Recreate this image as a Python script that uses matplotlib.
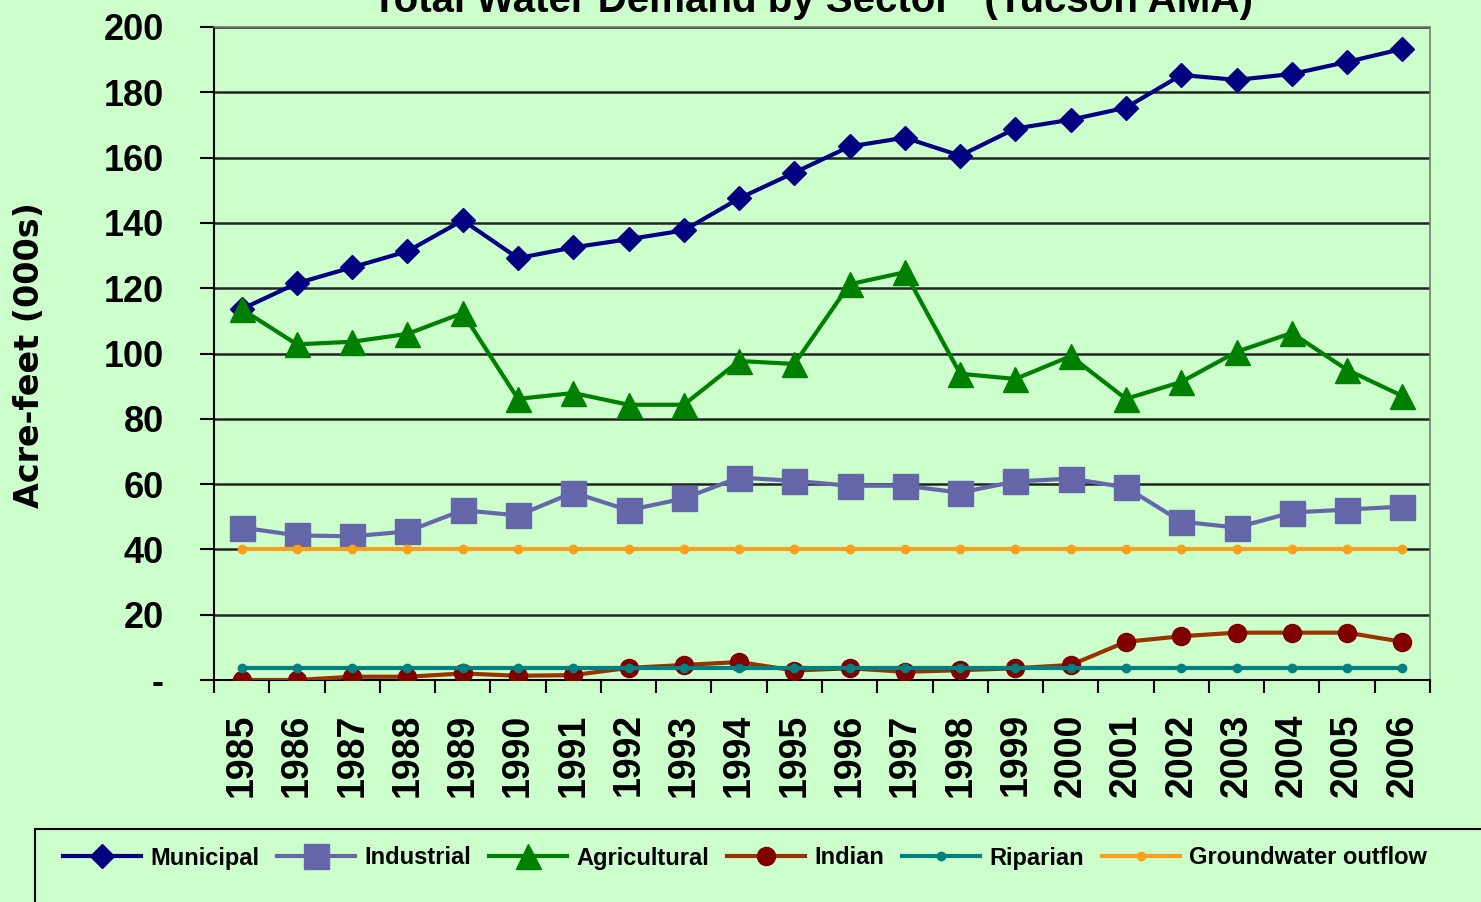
import numpy as np
import matplotlib.pyplot as plt
from matplotlib.patches import Rectangle
from matplotlib.ticker import FixedLocator

years = [str(y) for y in range(1985, 2007)]

municipal = [113.6, 121.5, 126.4, 131.3, 140.8, 129.2, 132.5, 135.0, 137.7, 147.5, 155.4,
             163.4, 166.1, 160.6, 168.9, 171.6, 175.3, 185.3, 183.8, 185.6, 189.3, 193.3]
industrial = [46.7, 44.3, 44.0, 45.5, 52.0, 50.4, 57.4, 52.0, 55.6, 62.0, 61.0,
              59.5, 59.5, 57.4, 60.8, 61.7, 59.0, 48.5, 46.7, 51.3, 52.2, 53.1]
agricultural = [113.6, 102.8, 103.6, 106.0, 112.4, 86.1, 87.9, 84.3, 84.3, 97.7, 96.8,
                121.2, 124.9, 93.8, 92.2, 99.2, 86.1, 91.3, 100.5, 106.3, 95.0, 87.0]
indian = [0.0, 0.0, 1.0, 1.0, 2.0, 1.3, 1.5, 3.7, 4.6, 5.5, 2.9,
          3.6, 2.5, 3.0, 3.6, 4.6, 11.7, 13.4, 14.5, 14.5, 14.5, 11.7]
riparian = [3.8] * 22
gw_outflow = [40.0] * 22

bg = '#CCFFCC'
fig = plt.figure(figsize=(14.81, 9.02), dpi=100, facecolor=bg)
ax = fig.add_axes([214 / 1481, 1 - 680 / 902, (1430 - 214) / 1481, (680 - 27) / 902])
ax.set_facecolor(bg)

x = np.arange(len(years))
ax.plot(x, municipal, color='#000080', lw=3, marker='D', ms=12, label='Municipal', zorder=3)
ax.plot(x, industrial, color='#6666AA', lw=3, marker='s', ms=18, label='Industrial', zorder=4)
ax.plot(x, agricultural, color='#008000', lw=3, marker='^', ms=18, label='Agricultural', zorder=5)
ax.plot(x, indian, color='#993300', lw=3, marker='o', ms=13, mfc='#800000', mec='#800000',
        label='Indian', zorder=6)
ax.plot(x, riparian, color='#008080', lw=3, marker='o', ms=6, label='Riparian', zorder=7)
ax.plot(x, gw_outflow, color='#F9A01B', lw=3, marker='o', ms=6, label='Groundwater outflow', zorder=8)

ax.set_xlim(-0.5, len(years) - 0.5)
ax.set_ylim(0, 200)
ax.set_yticks(np.arange(0, 201, 20))
ax.set_yticklabels(['-'] + [str(v) for v in range(20, 201, 20)])
ax.yaxis.grid(True, color='#222222', lw=1.8, zorder=1)
ax.set_axisbelow(True)

ax.set_xticks(x)
ax.set_xticklabels(years, rotation=90)
ax.xaxis.set_minor_locator(FixedLocator(np.arange(-0.5, len(years), 1)))
ax.tick_params(axis='x', which='major', length=0, pad=24)
ax.tick_params(axis='x', which='minor', length=9, width=1.5, direction='out')
ax.tick_params(axis='y', length=10, width=1.5, direction='out', pad=26)

for lab in ax.get_xticklabels() + ax.get_yticklabels():
    lab.set_fontfamily('Liberation Sans')
    lab.set_fontweight('bold')
for lab in ax.get_xticklabels():
    lab.set_fontsize(27)
for lab in ax.get_yticklabels():
    lab.set_fontsize(26)

for s in ['top', 'right']:
    ax.spines[s].set_color('#777777')
    ax.spines[s].set_linewidth(1.2)
for s in ['left', 'bottom']:
    ax.spines[s].set_color('black')
    ax.spines[s].set_linewidth(1.5)

fig.text(30 / 1481, 1 - 355 / 902, 'Acre-feet (000s)', rotation=90, ha='center', va='center',
         fontsize=24, fontweight='bold', family='DejaVu Sans')

fig.text(812 / 1481, 1 - 12 / 902, 'Total Water Demand by Sector   (Tucson AMA)',
         ha='center', va='baseline', fontsize=29, fontweight='bold', family='Liberation Sans')

fig.add_artist(Rectangle((35 / 1481, -0.05), 1.0, 0.05 + (1 - 829 / 902),
                         transform=fig.transFigure, fill=False, edgecolor='black', lw=1.5))
handles, labels = ax.get_legend_handles_labels()
fig.legend(handles, labels, loc='center left', bbox_to_anchor=(42 / 1481, 1 - 858 / 902),
           ncol=6, frameon=False, handlelength=3.3, handletextpad=0.4, columnspacing=0.75,
           prop={'family': 'Liberation Sans', 'weight': 'bold', 'size': 17})

fig.savefig('out.png', dpi=100, facecolor=bg)
